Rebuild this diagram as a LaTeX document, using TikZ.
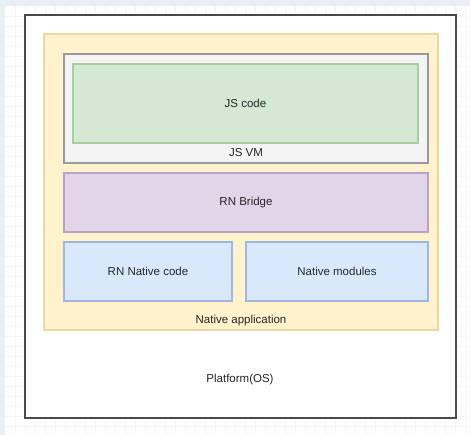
\documentclass[tikz,border=0pt]{standalone}
\usepackage{fontspec}
\setmainfont{Liberation Sans}
\definecolor{bgblue}{HTML}{E8F0F3}
\definecolor{gridc}{HTML}{F4F5F6}
\definecolor{yfill}{HTML}{FFF2CC}
\definecolor{ydraw}{HTML}{EDD9A0}
\definecolor{gfill}{HTML}{D5E8D4}
\definecolor{gdraw}{HTML}{A6CF9C}
\definecolor{vmfill}{HTML}{F4F4F4}
\definecolor{vmdraw}{HTML}{9A9A9A}
\definecolor{pfill}{HTML}{E1D5E7}
\definecolor{pdraw}{HTML}{B8A2C6}
\definecolor{bfill}{HTML}{DAE8FC}
\definecolor{bdraw}{HTML}{9DB7DD}
\definecolor{outerdraw}{HTML}{4A4A4A}
\tikzset{
  box/.style={rectangle, anchor=north west, inner sep=0pt, outer sep=0pt, line width=1.3pt},
  lbl/.style={font=\fontsize{11.5}{13}\selectfont, text=black!85, inner sep=0pt}
}
\begin{document}
\begin{tikzpicture}[x=1pt,y=-1pt]
\useasboundingbox (0,0) rectangle (470,435);
\fill[bgblue] (0,0) rectangle (470,435);
\fill[white] (5,6) rectangle (470,435);
\foreach \i in {15,25,...,465} \draw[gridc, line width=0.5pt] (\i,6) -- (\i,435);
\foreach \j in {16,26,...,430} \draw[gridc, line width=0.5pt] (5,\j) -- (470,\j);
% outer platform
\node[box, draw=outerdraw, fill=white, line width=1.6pt, minimum width=431, minimum height=403] (os) at (25,15) {};
% native application
\node[box, draw=ydraw, fill=yfill, minimum width=394, minimum height=296] (app) at (44,34) {};
% JS VM
\node[box, draw=vmdraw, fill=vmfill, minimum width=364, minimum height=109] (vm) at (64,54) {};
% JS code
\node[box, draw=gdraw, fill=gfill, minimum width=345, minimum height=79] (js) at (73,64) {};
% RN Bridge
\node[box, draw=pdraw, fill=pfill, minimum width=364, minimum height=59] (bridge) at (64,173) {};
% RN Native code
\node[box, draw=bdraw, fill=bfill, minimum width=168, minimum height=59] (rnn) at (64,242) {};
% Native modules
\node[box, draw=bdraw, fill=bfill, minimum width=182, minimum height=59] (mods) at (246,242) {};
% labels
\node[lbl] (tjs) at (js.center) {JS code};
\node[lbl] (tvm) at ([yshift=10]vm.south) {JS VM};
\node[lbl] (tbr) at (bridge.center) {RN Bridge};
\node[lbl] (trn) at (rnn.center) {RN Native code};
\node[lbl] (tmo) at (mods.center) {Native modules};
\node[lbl] (tapp) at ([yshift=9]app.south) {Native application};
\node[lbl] (tos) at (240,380) {Platform(OS)};
\end{tikzpicture}
\end{document}
